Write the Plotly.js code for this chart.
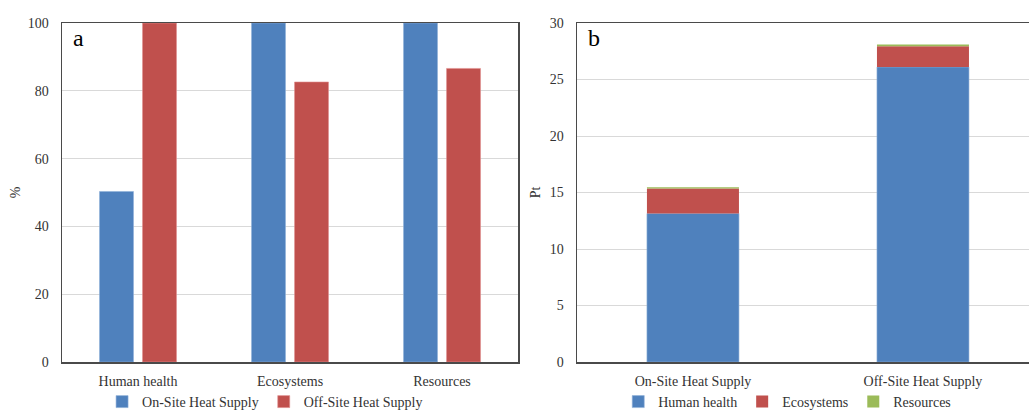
<!DOCTYPE html>
<html><head><meta charset="utf-8">
<script src="https://cdn.plot.ly/plotly-3.0.1.min.js"></script>
<style>html,body{margin:0;padding:0;background:#fff}#c{width:1029px;height:410px}</style>
</head><body><div id="c"></div>
<script>
// Panel a: relative impact (%)
var categoriesA = ["Human health", "Ecosystems", "Resources"];
var onSitePct = [50.3, 100, 100];
var offSitePct = [100, 82.6, 86.6];
// Panel b: single score (Pt)
var categoriesB = ["On-Site Heat Supply", "Off-Site Heat Supply"];
var humanHealthPt = [13.15, 26.1];
var ecosystemsPt = [2.2, 1.85];
var resourcesPt = [0.12, 0.15];

var blue = "#4F81BD", red = "#C0504D", green = "#9BBB59";
var font = {family: "Liberation Serif, Times New Roman, serif", size: 14, color: "#333333"};

var traces = [
  {type: "bar", x: categoriesA, y: onSitePct, name: "On-Site Heat Supply", xaxis: "x", yaxis: "y",
   marker: {color: blue, line: {color: "#8fb0d9", width: 0.6}}, legend: "legend"},
  {type: "bar", x: categoriesA, y: offSitePct, name: "Off-Site Heat Supply", xaxis: "x", yaxis: "y",
   marker: {color: red, line: {color: "#e09090", width: 0.6}}, legend: "legend"},
  {type: "bar", x: categoriesB, y: humanHealthPt, name: "Human health", xaxis: "x2", yaxis: "y2",
   marker: {color: blue, line: {color: "#8fb0d9", width: 0.6}}, legend: "legend2",
   width: 0.4, offset: -0.2},
  {type: "bar", x: categoriesB, y: ecosystemsPt, name: "Ecosystems", xaxis: "x2", yaxis: "y2",
   marker: {color: red, line: {width: 0}}, legend: "legend2", base: humanHealthPt,
   width: 0.4, offset: -0.2},
  {type: "bar", x: categoriesB, y: resourcesPt, name: "Resources", xaxis: "x2", yaxis: "y2",
   marker: {color: green, line: {width: 0}}, legend: "legend2",
   base: humanHealthPt.map(function(v, i){ return v + ecosystemsPt[i]; }),
   width: 0.4, offset: -0.2}
];

var axLine = {showline: true, linecolor: "#4a4a4a", linewidth: 1.5};
var layout = {
  width: 1029, height: 410,
  margin: {l: 62, r: 0, t: 23, b: 48, autoexpand: false},
  paper_bgcolor: "#fff", plot_bgcolor: "#fff",
  font: font,
  barmode: "group",
  bargap: 0.434, bargroupgap: 0.21,
  showlegend: true,
  xaxis: Object.assign({domain: [0, 0.4716], range: [-0.5, 2.5], mirror: true, ticks: "",
    tickfont: font, ticklabelstandoff: 6, automargin: false}, axLine),
  yaxis: Object.assign({range: [0, 100], dtick: 20, mirror: true, ticks: "", gridcolor: "#d9d9d9",
    gridwidth: 1, zeroline: false, tickfont: font, ticklabelstandoff: 9, automargin: false,
    title: {text: "%", font: font, standoff: 4}}, axLine),
  xaxis2: Object.assign({domain: [0.5326, 1], range: [-0.504, 1.461], mirror: true, ticks: "",
    tickfont: font, anchor: "y2", ticklabelstandoff: 6, automargin: false}, axLine),
  yaxis2: Object.assign({range: [0, 30], dtick: 5, ticks: "", gridcolor: "#d9d9d9",
    gridwidth: 1, zeroline: false, tickfont: font, anchor: "x2", ticklabelstandoff: 9, automargin: false,
    title: {text: "Pt", font: font, standoff: 6}}, axLine),
  legend: {orientation: "h", x: 0.21, xanchor: "center", y: -0.118, yanchor: "middle",
    font: font, itemwidth: 30, tracegroupgap: 0, bgcolor: "rgba(0,0,0,0)"},
  legend2: {orientation: "h", x: 0.75, xanchor: "center", y: -0.118, yanchor: "middle",
    font: font, itemwidth: 30, bgcolor: "rgba(0,0,0,0)"},
  annotations: [
    {text: "a", xref: "x domain", yref: "y domain", x: 0.02, y: 0.955, xanchor: "left", yanchor: "middle",
     showarrow: false, font: {family: font.family, size: 24, color: "#000"}},
    {text: "b", xref: "x2 domain", yref: "y2 domain", x: 0.02, y: 0.955, xanchor: "left", yanchor: "middle",
     showarrow: false, font: {family: font.family, size: 24, color: "#000"}}
  ]
};
Plotly.newPlot("c", traces, layout, {displayModeBar: false, staticPlot: true});
</script></body></html>
